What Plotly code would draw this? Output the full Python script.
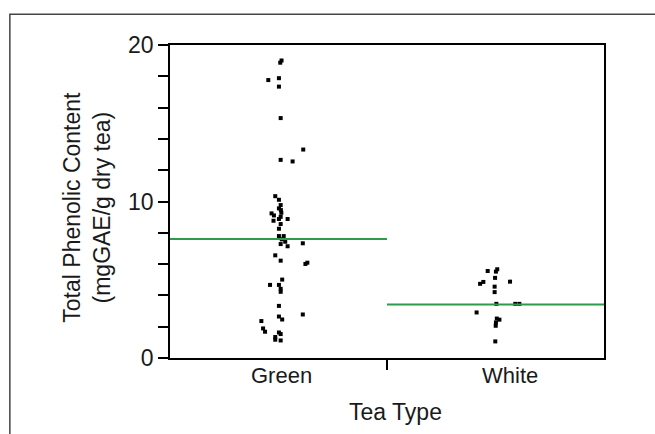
import plotly.graph_objects as go

categories = ["Green", "White"]

green_values = [19.01, 18.87, 17.76, 17.88, 17.34, 15.33, 13.32, 12.66, 12.56,
                10.34, 10.11, 9.77, 9.56, 9.45, 9.24, 9.11, 9.28, 9.02, 8.88, 8.88,
                8.77, 8.56, 8.26, 7.79, 7.79, 7.58, 7.43, 7.28, 7.14, 7.33,
                6.56, 6.22, 6.01, 6.09, 5.01, 4.67, 4.67, 4.42, 4.23,
                3.33, 2.78, 2.65, 2.46, 2.36, 1.89, 1.68, 1.63, 1.53, 1.34, 1.17, 1.12]
green_jitter = [0.014, 0.008, -0.047, 0.002, 0.002, 0.010, 0.114, 0.010, 0.065,
                -0.015, 0.002, 0.010, 0.002, 0.011, -0.032, -0.021, 0.013, 0.010, 0.002, 0.042,
                -0.023, 0.010, 0.002, 0.002, 0.024, 0.015, 0.031, 0.010, 0.042, 0.112,
                -0.015, 0.010, 0.124, 0.133, 0.017, -0.039, 0.002, 0.010, 0.010,
                0.002, 0.112, 0.002, 0.017, -0.079, -0.071, -0.062, 0.002, 0.010, -0.015, -0.015, 0.010]

white_values = [5.56, 5.67, 5.52, 5.12, 4.74, 4.86, 4.88, 4.56, 4.21,
                3.46, 3.46, 3.46, 2.91, 2.52, 2.45, 2.27, 2.06, 1.06]
white_jitter = [-0.036, 0.008, 0.002, -0.002, -0.071, -0.056, 0.067, -0.004, -0.004,
                0.004, 0.091, 0.110, -0.087, 0.006, 0.018, 0.002, 0.001, -0.001]

group_means = [7.60, 3.42]

y_ticks = [0, 10, 20]

font_family = "Liberation Sans, Arial, sans-serif"
text_color = "#1a1a1a"
fsize = 23

fig = go.Figure()

fig.add_trace(go.Scatter(
    x=[0 + j for j in green_jitter], y=green_values, mode="markers",
    marker=dict(symbol="square", size=4, color="black", line=dict(width=0)),
    showlegend=False, hoverinfo="y"))
fig.add_trace(go.Scatter(
    x=[1 + j for j in white_jitter], y=white_values, mode="markers",
    marker=dict(symbol="square", size=4, color="black", line=dict(width=0)),
    showlegend=False, hoverinfo="y"))

for i, m in enumerate(group_means):
    fig.add_trace(go.Scatter(
        x=[i - 0.5, i + 0.5], y=[m, m], mode="lines",
        line=dict(color="#2E9A4C", width=2), showlegend=False, hoverinfo="skip"))

# category labels
for i, c in enumerate(categories):
    fig.add_annotation(x=i + (0.012 if i == 0 else 0.068), y=-0.055, xref="x", yref="paper",
                       text=c, showarrow=False, xanchor="center", yanchor="middle",
                       font=dict(size=22, color=text_color, family=font_family))

fig.add_annotation(x=0.52, y=-0.172, xref="paper", yref="paper", text="Tea Type",
                   showarrow=False, xanchor="center", yanchor="middle",
                   font=dict(size=fsize, color=text_color, family=font_family))
fig.add_annotation(x=-0.19, y=0.482, xref="paper", yref="paper",
                   text="Total Phenolic Content<br>(mgGAE/g dry tea)",
                   textangle=-90, showarrow=False, xanchor="center", yanchor="middle",
                   font=dict(size=fsize, color=text_color, family=font_family))

# outer frame
fig.add_shape(type="path", xref="paper", yref="paper",
              path="M -0.369 -0.5 L -0.369 1.098 L 1.2 1.098",
              line=dict(color="#444444", width=1.5))

fig.update_layout(
    width=655, height=434,
    margin=dict(l=170, r=51, t=44.5, b=75.7),
    paper_bgcolor="white", plot_bgcolor="white",
    font=dict(family=font_family, size=fsize, color=text_color),
    xaxis=dict(range=[-0.5, 1.5], tickvals=[0.5], ticktext=[""], ticks="outside",
               ticklen=10, tickwidth=1.5, tickcolor="black",
               showline=True, linecolor="black", linewidth=1.5, mirror=True,
               showgrid=False, zeroline=False, fixedrange=True),
    yaxis=dict(range=[0, 20], tickvals=y_ticks, ticks="outside", ticklen=10,
               tickwidth=1.5, tickcolor="black",
               minor=dict(dtick=2, ticks="outside", ticklen=10, tickwidth=1.5, tickcolor="black"),
               showline=True, linecolor="black", linewidth=1.5, mirror=True,
               showgrid=False, zeroline=False, tickfont=dict(size=fsize)),
)

fig.write_html("out.html", config={"displayModeBar": False},
               post_script="document.body.style.margin='0';document.body.style.overflow='hidden';")
